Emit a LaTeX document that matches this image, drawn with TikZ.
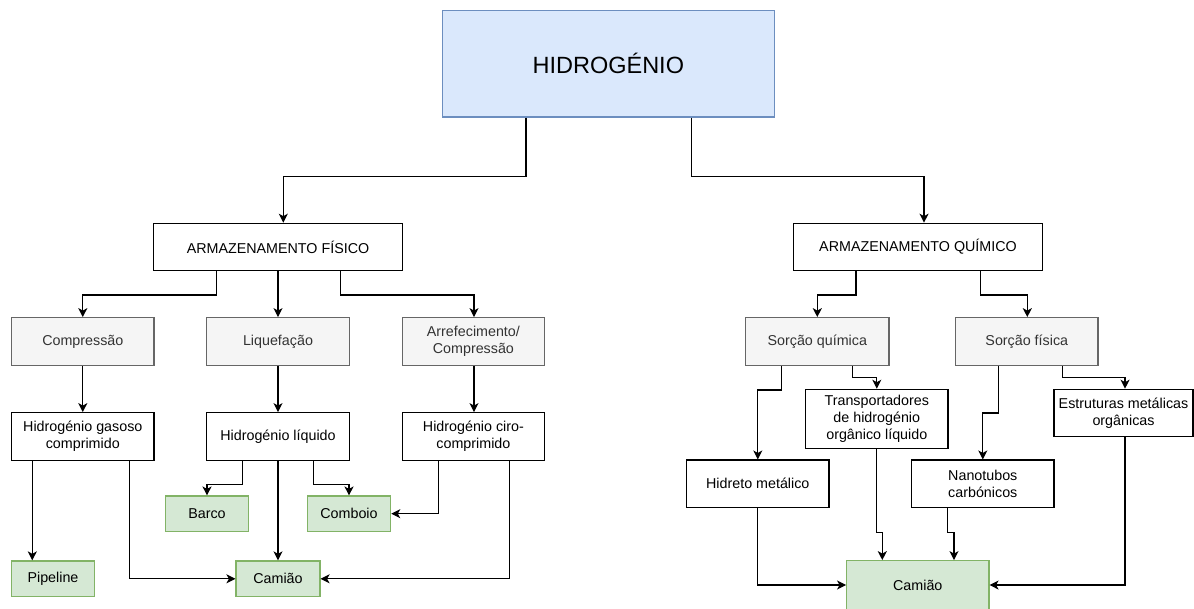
\documentclass[tikz,border=0pt]{standalone}
\usepackage{fontspec}
\setmainfont{Liberation Sans}
\usetikzlibrary{arrows.meta}
\definecolor{blueF}{HTML}{DAE8FC}
\definecolor{blueD}{HTML}{6C8EBF}
\definecolor{grayF}{HTML}{F5F5F5}
\definecolor{grayD}{HTML}{666666}
\definecolor{grayT}{HTML}{333333}
\definecolor{greenF}{HTML}{D5E8D4}
\definecolor{greenD}{HTML}{82B366}
\begin{document}
\begin{tikzpicture}[x=1pt,y=-1pt,
  box/.style={draw=black, line width=1.2pt, fill=white, inner sep=0pt, align=center,
    font=\fontsize{14.3}{17}\selectfont, text=black},
  gbox/.style={box, draw=grayD, fill=grayF, text=grayT},
  grbox/.style={box, draw=greenD, fill=greenF, text=black},
  arr/.style={-{Stealth[length=9pt,width=9pt,inset=2.5pt]}, line width=1.2pt, black}
]
\clip (0,0) rectangle (1194,608);
\fill[white] (0,0) rectangle (1194,608);

% top
\node[box, draw=blueD, fill=blueF, minimum width=332pt, minimum height=106.7pt,
  font=\fontsize{23.5}{28}\selectfont] (hid) at (608.3,63.7) {HIDROGÉNIO};

\node[box, minimum width=249.5pt, minimum height=47.4pt] (af) at (278,247) {ARMAZENAMENTO FÍSICO};
\node[box, minimum width=249.4pt, minimum height=47.4pt] (aq) at (918,247) {ARMAZENAMENTO QUÍMICO};

% physical
\node[gbox, minimum width=142.3pt, minimum height=48pt] (comp) at (82.8,341.7) {Compressão};
\node[gbox, minimum width=142.3pt, minimum height=48pt] (liq) at (278,341.7) {Liquefação};
\node[gbox, minimum width=142pt, minimum height=48pt] (arf) at (473.4,341.7) {Arrefecimento/\\Compressão};

\node[box, minimum width=142.3pt, minimum height=47.6pt] (hgas) at (82.8,436.5) {Hidrogénio gasoso\\comprimido};
\node[box, minimum width=142.3pt, minimum height=47.6pt] (hliq) at (278,436.5) {Hidrogénio líquido};
\node[box, minimum width=142pt, minimum height=47.6pt] (hciro) at (473.4,436.5) {Hidrogénio ciro-\\comprimido};

\node[grbox, minimum width=82.6pt, minimum height=35.3pt] (barco) at (207,513.7) {Barco};
\node[grbox, minimum width=83.4pt, minimum height=35.3pt] (comboio) at (349,513.7) {Comboio};
\node[grbox, minimum width=82.6pt, minimum height=35.7pt] (pipe) at (53,578.8) {Pipeline};
\node[grbox, minimum width=84pt, minimum height=35.7pt] (cam1) at (278,578.8) {Camião};

% chemical
\node[gbox, minimum width=143.3pt, minimum height=48pt] (sq) at (817.3,341.7) {Sorção química};
\node[gbox, minimum width=142.5pt, minimum height=48pt] (sf) at (1026.8,341.7) {Sorção física};

\node[box, minimum width=142.3pt, minimum height=59pt] (trans) at (876.8,418.8) {Transportadores\\de hidrogénio\\orgânico líquido};
\node[box, minimum width=142.3pt, minimum height=47.3pt] (hidreto) at (757.8,483.7) {Hidreto metálico};
\node[box, minimum width=142.3pt, minimum height=47.3pt] (nano) at (982.8,483.7) {Nanotubos\\carbónicos};
\node[box, minimum width=139pt, minimum height=47pt] (estr) at (1123.5,412.8) {Estruturas metálicas\\orgânicas};
\node[grbox, minimum width=142.3pt, minimum height=48.6pt] (cam2) at (917.8,585) {Camião};

% connectors top
\draw[arr] ([xshift=-82.3pt]hid.south) -- ++(0,59) -| ([xshift=5.3pt]af.north);
\draw[arr] ([xshift=83pt]hid.south) -- ++(0,59) -| ([xshift=6pt]aq.north);

% physical connectors
\draw[arr] ([xshift=-61.3pt]af.south) -- ++(0,23.6) -| (comp.north);
\draw[arr] (af.south) -- (liq.north);
\draw[arr] ([xshift=62.7pt]af.south) -- ++(0,23.6) -| ([xshift=0.6pt]arf.north);

\draw[arr] (comp.south) -- (hgas.north);
\draw[arr] (liq.south) -- (hliq.north);
\draw[arr] ([xshift=0.6pt]arf.south) -- ([xshift=0.6pt]hciro.north);

\draw[arr] ([xshift=-50.5pt]hgas.south) coordinate (t1) -- (t1 |- pipe.north);
\draw[arr] ([xshift=46.5pt]hgas.south) |- (cam1.west);
\draw[arr] ([xshift=-35.7pt]hliq.south) -- ++(0,23.4) -| (barco.north);
\draw[arr] (hliq.south) -- (cam1.north);
\draw[arr] ([xshift=35.3pt]hliq.south) -- ++(0,23.4) -| (comboio.north);
\draw[arr] ([xshift=-35pt]hciro.south) |- (comboio.east);
\draw[arr] ([xshift=35.8pt]hciro.south) |- (cam1.east);

% chemical connectors
\draw[arr] ([xshift=-62pt]aq.south) -- ++(0,23.6) -| (sq.north);
\draw[arr] ([xshift=62.7pt]aq.south) -- ++(0,23.6) -| ([xshift=0.5pt]sf.north);

\draw[arr] ([xshift=-35.6pt]sq.south) -- ++(0,23.6) -| (hidreto.north);
\draw[arr] ([xshift=35pt]sq.south) -- ++(0,11) -| (trans.north);
\draw[arr] ([xshift=-28.5pt]sf.south) -- ++(0,46.6) -| (nano.north);
\draw[arr] ([xshift=35.5pt]sf.south) -- ++(0,11) -| ([xshift=1.5pt]estr.north);

\draw[arr] ([xshift=-0.5pt]trans.south) -- ++(0,83.4) -| ([xshift=-35.5pt]cam2.north);
\draw[arr] ([xshift=-35.5pt]nano.south) -- ++(0,24.4) -| ([xshift=36.2pt]cam2.north);
\draw[arr] (hidreto.south) |- (cam2.west);
\draw[arr] ([xshift=1.5pt]estr.south) |- (cam2.east);
\end{tikzpicture}
\end{document}
